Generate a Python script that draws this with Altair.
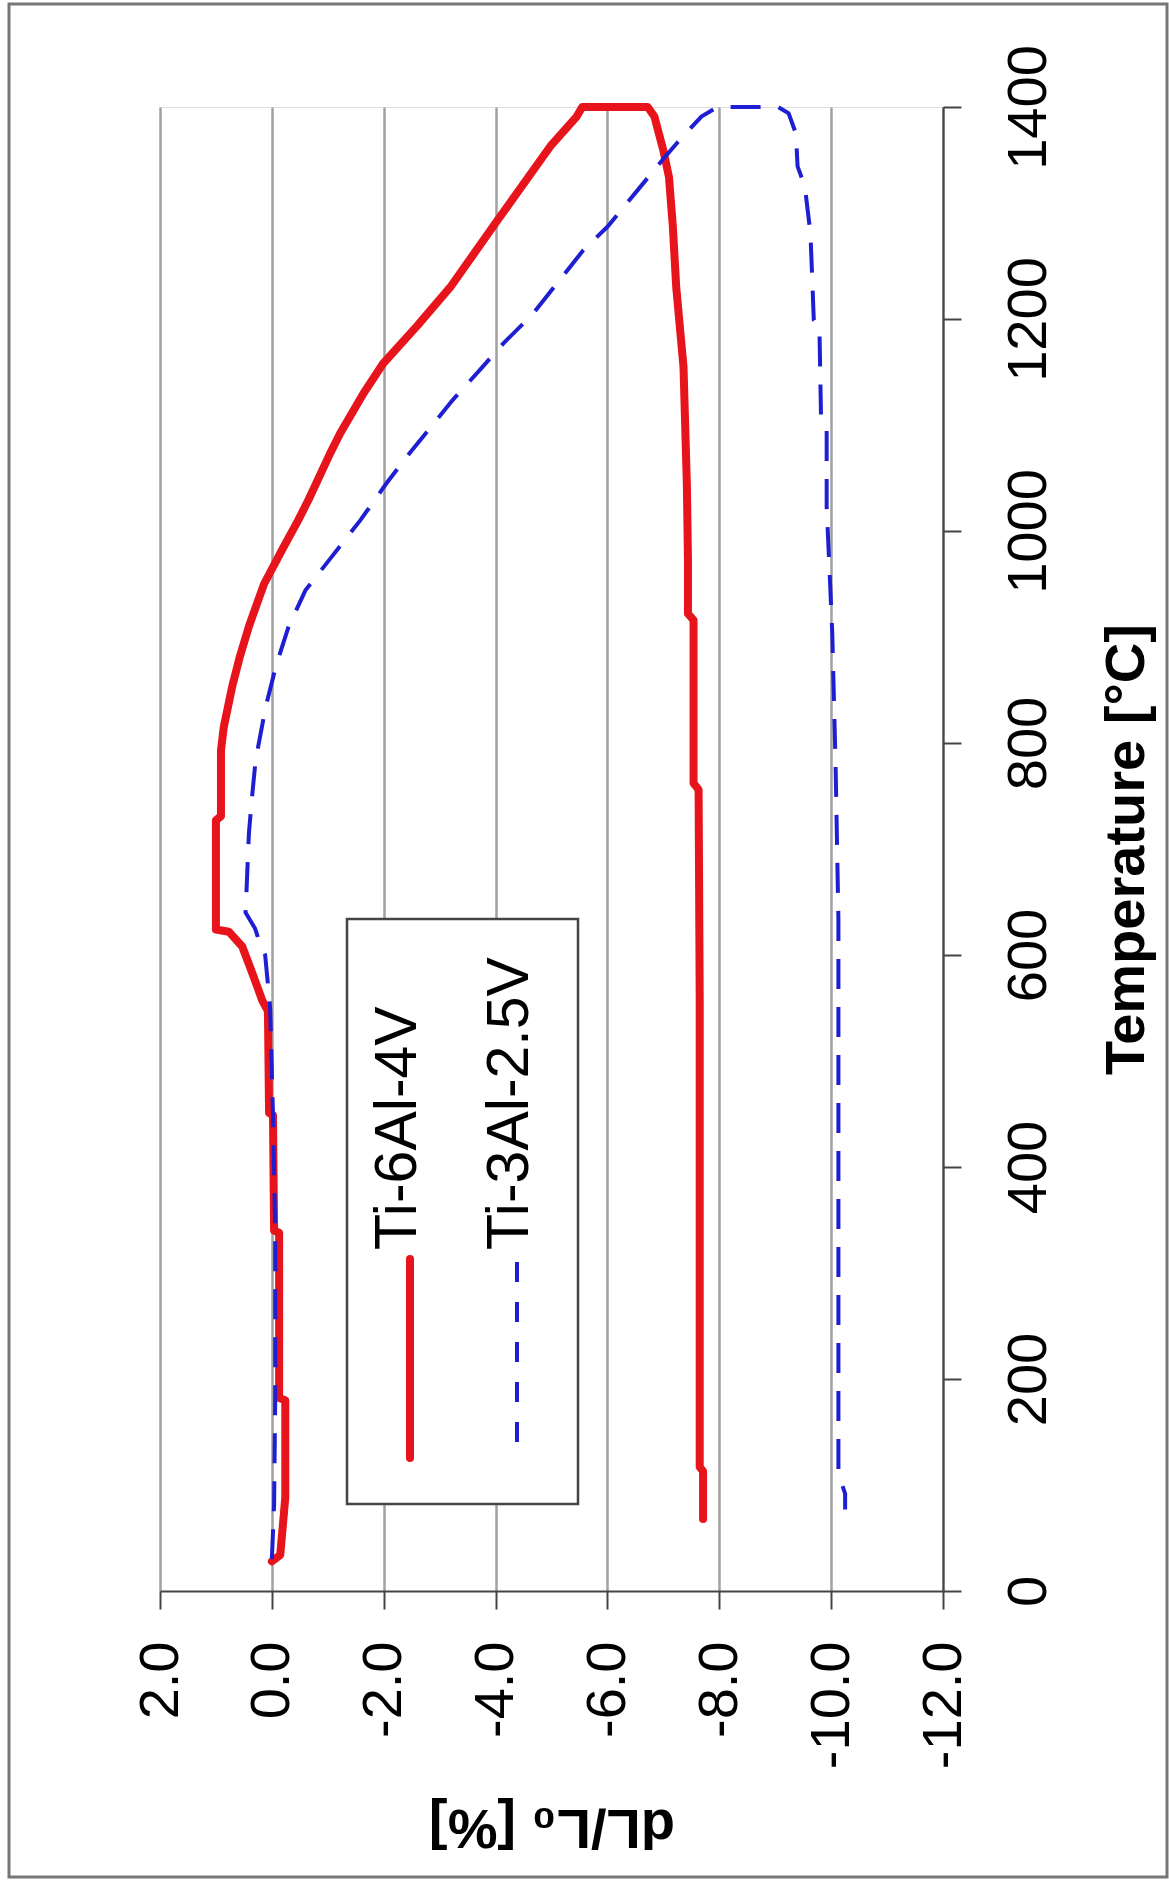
import altair as alt
import pandas as pd

# ---- data ----
series_names = ["Ti-6Al-4V", "Ti-3Al-2.5V"]

ti64_temp = [28, 34, 88, 180, 182, 338, 340, 449, 451, 547, 557, 583, 608, 622, 624,
             727, 731, 793, 815, 853, 880, 910, 950, 982, 1010, 1030, 1073, 1092, 1130,
             1158, 1193, 1230, 1295, 1363, 1391, 1400, 1400, 1391, 1359, 1334, 1287,
             1230, 1155, 1045, 973, 922, 916, 762, 756, 558, 117, 113, 68]
ti64_dl = [0.00, -0.15, -0.24, -0.24, -0.13, -0.13, -0.04, -0.02, 0.05, 0.07, 0.17,
           0.35, 0.53, 0.77, 1.00, 1.00, 0.91, 0.91, 0.86, 0.71, 0.58, 0.41, 0.14,
           -0.18, -0.47, -0.66, -1.04, -1.22, -1.64, -1.99, -2.59, -3.19, -4.06,
           -4.98, -5.45, -5.55, -6.72, -6.84, -7.00, -7.10, -7.17, -7.23, -7.36,
           -7.42, -7.44, -7.44, -7.54, -7.54, -7.63, -7.65, -7.65, -7.71, -7.71]

ti325_temp = [30, 81, 182, 340, 450, 550, 600, 612, 625, 640, 715, 746, 784, 834, 872,
              910, 944, 973, 1010, 1045, 1070, 1124, 1152, 1177, 1205, 1237, 1265, 1287,
              1319, 1353, 1367, 1391, 1400, 1400, 1394, 1375, 1344, 1325, 1281, 1199,
              1193, 1105, 1095, 1023, 988, 904, 778, 633, 540, 110, 92, 77]
ti325_dl = [0.00, -0.04, -0.06, -0.06, -0.02, 0.03, 0.12, 0.22, 0.30, 0.47, 0.41, 0.36,
            0.29, 0.11, -0.07, -0.30, -0.60, -1.03, -1.58, -2.05, -2.41, -3.24, -3.72,
            -4.14, -4.67, -5.15, -5.57, -6.00, -6.50, -7.03, -7.26, -7.68, -7.97, -9.05,
            -9.24, -9.37, -9.40, -9.53, -9.63, -9.69, -9.79, -9.82, -9.92, -9.92, -9.95,
            -10.02, -10.08, -10.13, -10.13, -10.13, -10.25, -10.25]

dl_ticks = [2, 0, -2, -4, -6, -8, -10, -12]
temp_ticks = [0, 200, 400, 600, 800, 1000, 1200, 1400]

RED = "#E8141C"
BLUE = "#1E1ED2"
FONT = "Liberation Sans"

red_df = pd.DataFrame({"T": ti64_temp, "dL": ti64_dl, "i": range(len(ti64_temp))})
blue_df = pd.DataFrame({"T": ti325_temp, "dL": ti325_dl, "i": range(len(ti325_temp))})
one = pd.DataFrame({"k": [0]})

x_enc = alt.X(
    "dL:Q",
    scale=alt.Scale(domain=[-12, 2], reverse=True, nice=False, zero=False),
    axis=alt.Axis(
        values=dl_ticks,
        labelExpr="replace(format(datum.value, '.1f'), '\u2212', '-')",
        labelAngle=270, labelAlign="right", labelBaseline="middle",
        labelFontSize=56, labelPadding=32, labelColor="black",
        labelOverlap=False, labelFlush=False,
        tickSize=18, tickWidth=2, tickColor="#444444",
        domainColor="#444444", domainWidth=2,
        grid=True, gridColor="#a0a0a0", gridWidth=2.5,
        title="dL/L\u2080 [%]", titleFontSize=56, titleFontWeight="bold",
        titleAngle=180, titleAlign="center", titleBaseline="alphabetic",
        titleX=391.5, titleY=218, titleColor="black",
    ),
)
y_enc = alt.Y(
    "T:Q",
    scale=alt.Scale(domain=[0, 1400], nice=False),
    axis=alt.Axis(
        orient="right", values=temp_ticks, format="d",
        labelAngle=270, labelAlign="center", labelBaseline="top",
        labelFontSize=56, labelPadding=40, labelColor="black",
        labelOverlap=False, labelFlush=False,
        tickSize=18, tickWidth=2, tickColor="#444444",
        domainColor="#444444", domainWidth=2, grid=False,
        title="Temperature [\u00b0C]", titleFontSize=56, titleFontWeight="bold",
        titleAngle=270, titleAlign="center", titleBaseline="alphabetic",
        titleX=200, titleY=742, titleColor="black",
    ),
)

frame = alt.Chart(one).mark_rect(fill=None, stroke="#777777", strokeWidth=3).encode(
    x=alt.value(-151), x2=alt.value(1007), y=alt.value(-103), y2=alt.value(1770)
)

line_red = alt.Chart(red_df).mark_line(
    color=RED, strokeWidth=8, strokeJoin="round", strokeCap="round"
).encode(x=x_enc, y=y_enc, order="i:Q")

line_blue = alt.Chart(blue_df).mark_line(
    color=BLUE, strokeWidth=4, strokeDash=[30, 18]
).encode(x=x_enc, y=y_enc, order="i:Q")

legend_box = alt.Chart(one).mark_rect(fill="white", stroke="#444444", strokeWidth=2.5).encode(
    x=alt.value(187), x2=alt.value(418), y=alt.value(812), y2=alt.value(1397)
)
legend_red = alt.Chart(one).mark_rule(color=RED, strokeWidth=8, strokeCap="round").encode(
    x=alt.value(250), y=alt.value(1152), y2=alt.value(1351)
)
legend_blue = alt.Chart(one).mark_rule(color=BLUE, strokeWidth=4, strokeDash=[20, 20]).encode(
    x=alt.value(357), y=alt.value(1155), y2=alt.value(1354)
)
legend_text_red = alt.Chart(one).mark_text(
    text=series_names[0], angle=270, align="left", baseline="alphabetic",
    fontSize=59, font=FONT, color="black"
).encode(x=alt.value(256), y=alt.value(1143))
legend_text_blue = alt.Chart(one).mark_text(
    text=series_names[1], angle=270, align="left", baseline="alphabetic",
    fontSize=59, font=FONT, color="black"
).encode(x=alt.value(368), y=alt.value(1143))

chart = alt.layer(
    frame, line_red, line_blue, legend_box, legend_red, legend_blue,
    legend_text_red, legend_text_blue
).properties(
    width=783, height=1484,
    autosize=alt.AutoSizeParams(type="none"),
    padding={"left": 160, "top": 107, "right": 226, "bottom": 292},
    background="white",
).configure_view(stroke=None).configure(font=FONT)

chart.save("out.html", embed_options={"renderer": "svg", "actions": False})
